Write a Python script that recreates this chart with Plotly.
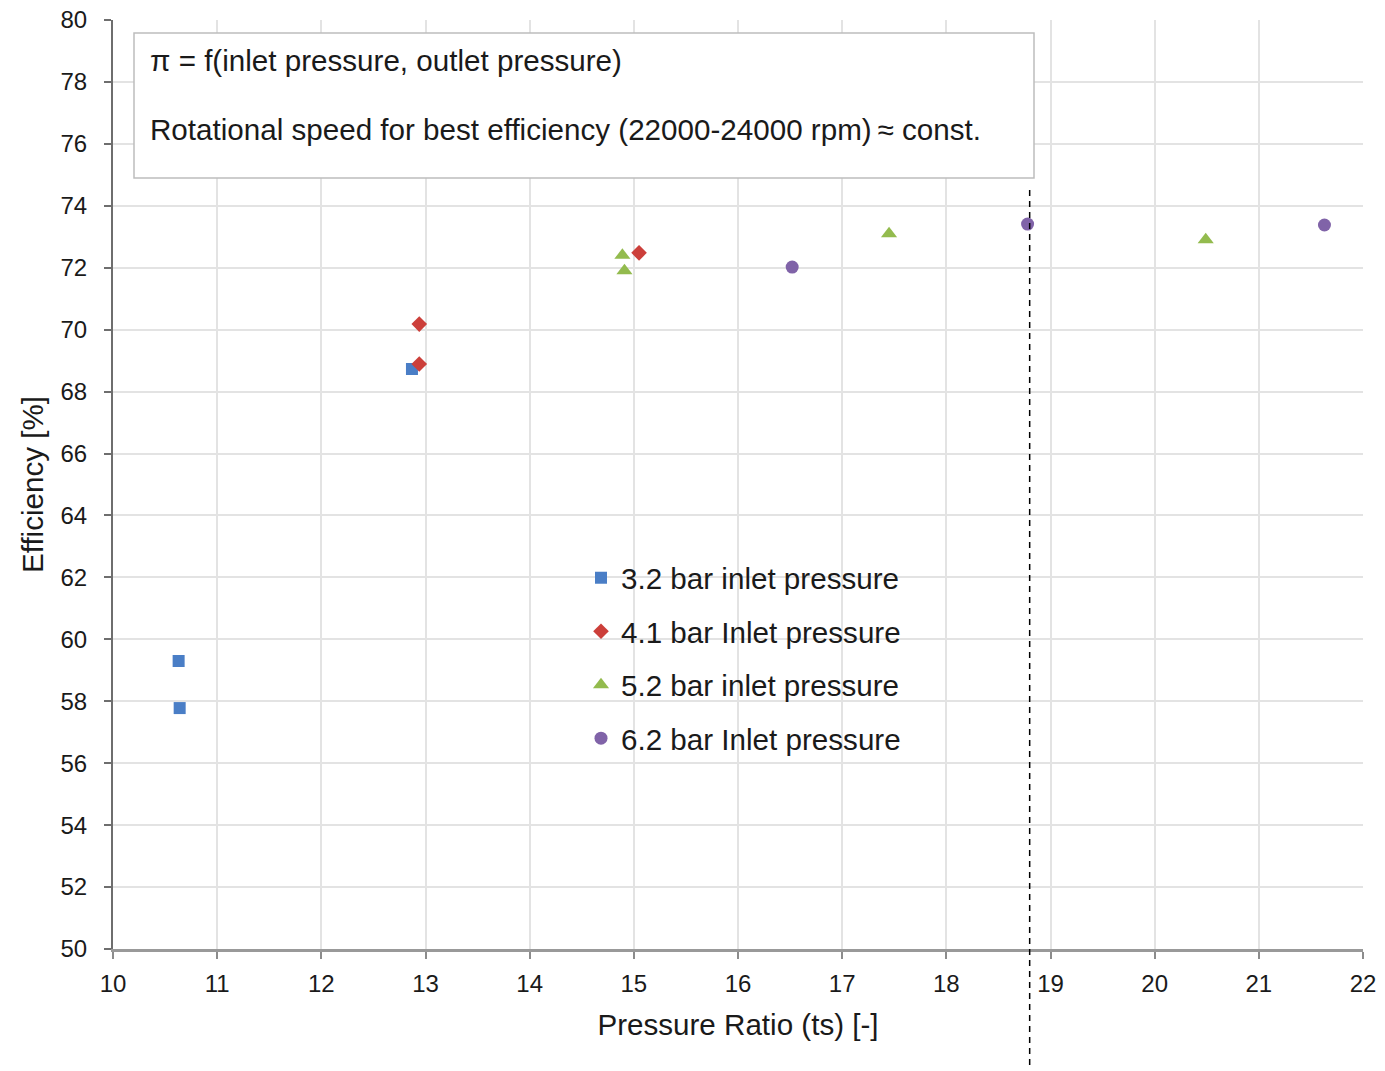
import plotly.graph_objects as go

# ---- data ----
series_names = ["3.2 bar inlet pressure", "4.1 bar Inlet pressure",
                "5.2 bar inlet pressure", "6.2 bar Inlet pressure"]
x_32 = [10.63, 10.64, 12.87]
y_32 = [59.30, 57.78, 68.73]
x_41 = [12.94, 12.94, 15.05]
y_41 = [70.18, 68.89, 72.48]
x_52 = [14.89, 14.91, 17.45, 20.49]
y_52 = [72.40, 71.90, 73.10, 72.90]
x_62 = [16.52, 18.78, 21.63]
y_62 = [72.02, 73.41, 73.38]
vline_x = 18.8

x_ticks = list(range(10, 23))
y_ticks = list(range(50, 81, 2))

colors = ["#4A7EC6", "#CC3F3A", "#93BB4E", "#8063A8"]
symbols = ["square", "diamond", "triangle-up", "circle"]
sizes = [12, 12, 14, 13]

FONT = "Liberation Sans, Arial, sans-serif"
TXT = "#1a1a1a"
BIG = 29.6

# plot area in the page: x 113..1363, y 20..949
def px(vx):
    return (vx - 113) / 1250.0

def py(vy):
    return (949 - vy) / 929.0

fig = go.Figure()
for i, (xs, ys) in enumerate([(x_32, y_32), (x_41, y_41), (x_52, y_52), (x_62, y_62)]):
    fig.add_trace(go.Scatter(
        x=xs, y=ys, mode="markers", name=series_names[i],
        legendgroup=f"g{i}",
        marker=dict(symbol=symbols[i], color=colors[i], size=sizes[i], line=dict(width=0)),
    ))

# white box behind legend (covers gridlines)
fig.add_shape(type="rect", xref="paper", yref="paper",
              x0=px(512), x1=px(985), y0=py(765), y1=py(553),
              fillcolor="white", line=dict(width=0), layer="between")

# annotation box
fig.add_shape(type="rect", xref="paper", yref="paper",
              x0=px(134), x1=px(1034), y0=py(178), y1=py(33),
              fillcolor="white", line=dict(color="#BDBDBD", width=1.5), layer="above")

fig.add_annotation(xref="paper", yref="paper", x=px(148), y=py(60),
                   xanchor="left", yanchor="middle", showarrow=False,
                   text="\u03c0 = f(inlet pressure, outlet pressure)",
                   font=dict(family=FONT, size=BIG, color=TXT))
fig.add_annotation(xref="paper", yref="paper", x=px(148), y=py(129),
                   xanchor="left", yanchor="middle", showarrow=False,
                   text="Rotational speed for best efficiency (22000-24000 rpm)\u2009\u2248 const.",
                   font=dict(family=FONT, size=BIG, color=TXT))

# dashed vertical line
fig.add_shape(type="line", xref="x", yref="paper",
              x0=vline_x, x1=vline_x, y0=py(1065), y1=py(187),
              line=dict(color="black", width=1.5, dash="6px,5px"), layer="above")

fig.update_layout(
    width=1385, height=1071,
    margin=dict(l=113, r=22, t=20, b=122),
    paper_bgcolor="white", plot_bgcolor="white",
    font=dict(family=FONT, size=24, color=TXT),
    showlegend=True,
    legend=dict(x=px(581), y=py(552), xanchor="left", yanchor="top",
                bgcolor="rgba(0,0,0,0)", borderwidth=0,
                font=dict(family=FONT, size=BIG, color=TXT),
                tracegroupgap=12, itemwidth=30),
    xaxis=dict(range=[10, 22], tickmode="array", tickvals=x_ticks,
               ticktext=[str(t) for t in x_ticks],
               automargin=False, ticklabeloverflow="allow",
               showgrid=True, gridcolor="#E3E3E3", gridwidth=1.5,
               showline=True, linecolor="#999999", linewidth=3,
               ticks="outside", ticklen=7, tickcolor="#8C8C8C", tickwidth=1.5,
               ticklabelstandoff=4,
               tickfont=dict(family=FONT, size=24, color=TXT),
               title=dict(text="Pressure Ratio (ts) [-]", standoff=19,
                          font=dict(family=FONT, size=BIG, color=TXT)),
               zeroline=False, mirror=False),
    yaxis=dict(range=[50, 80], tickmode="array", tickvals=y_ticks,
               ticktext=[str(t) for t in y_ticks],
               automargin=False, ticklabeloverflow="allow",
               showgrid=True, gridcolor="#E3E3E3", gridwidth=1.5,
               showline=True, linecolor="#6E6E6E", linewidth=2,
               ticks="outside", ticklen=7, tickcolor="#6E6E6E", tickwidth=1.5,
               ticklabelstandoff=12,
               tickfont=dict(family=FONT, size=24, color=TXT),
               title=dict(text="Efficiency [%]", standoff=8,
                          font=dict(family=FONT, size=BIG, color=TXT)),
               zeroline=False),
)

fig.write_html("out.html",
               config={"displayModeBar": False},
               post_script="document.body.style.margin='0';document.body.style.overflow='hidden';")
